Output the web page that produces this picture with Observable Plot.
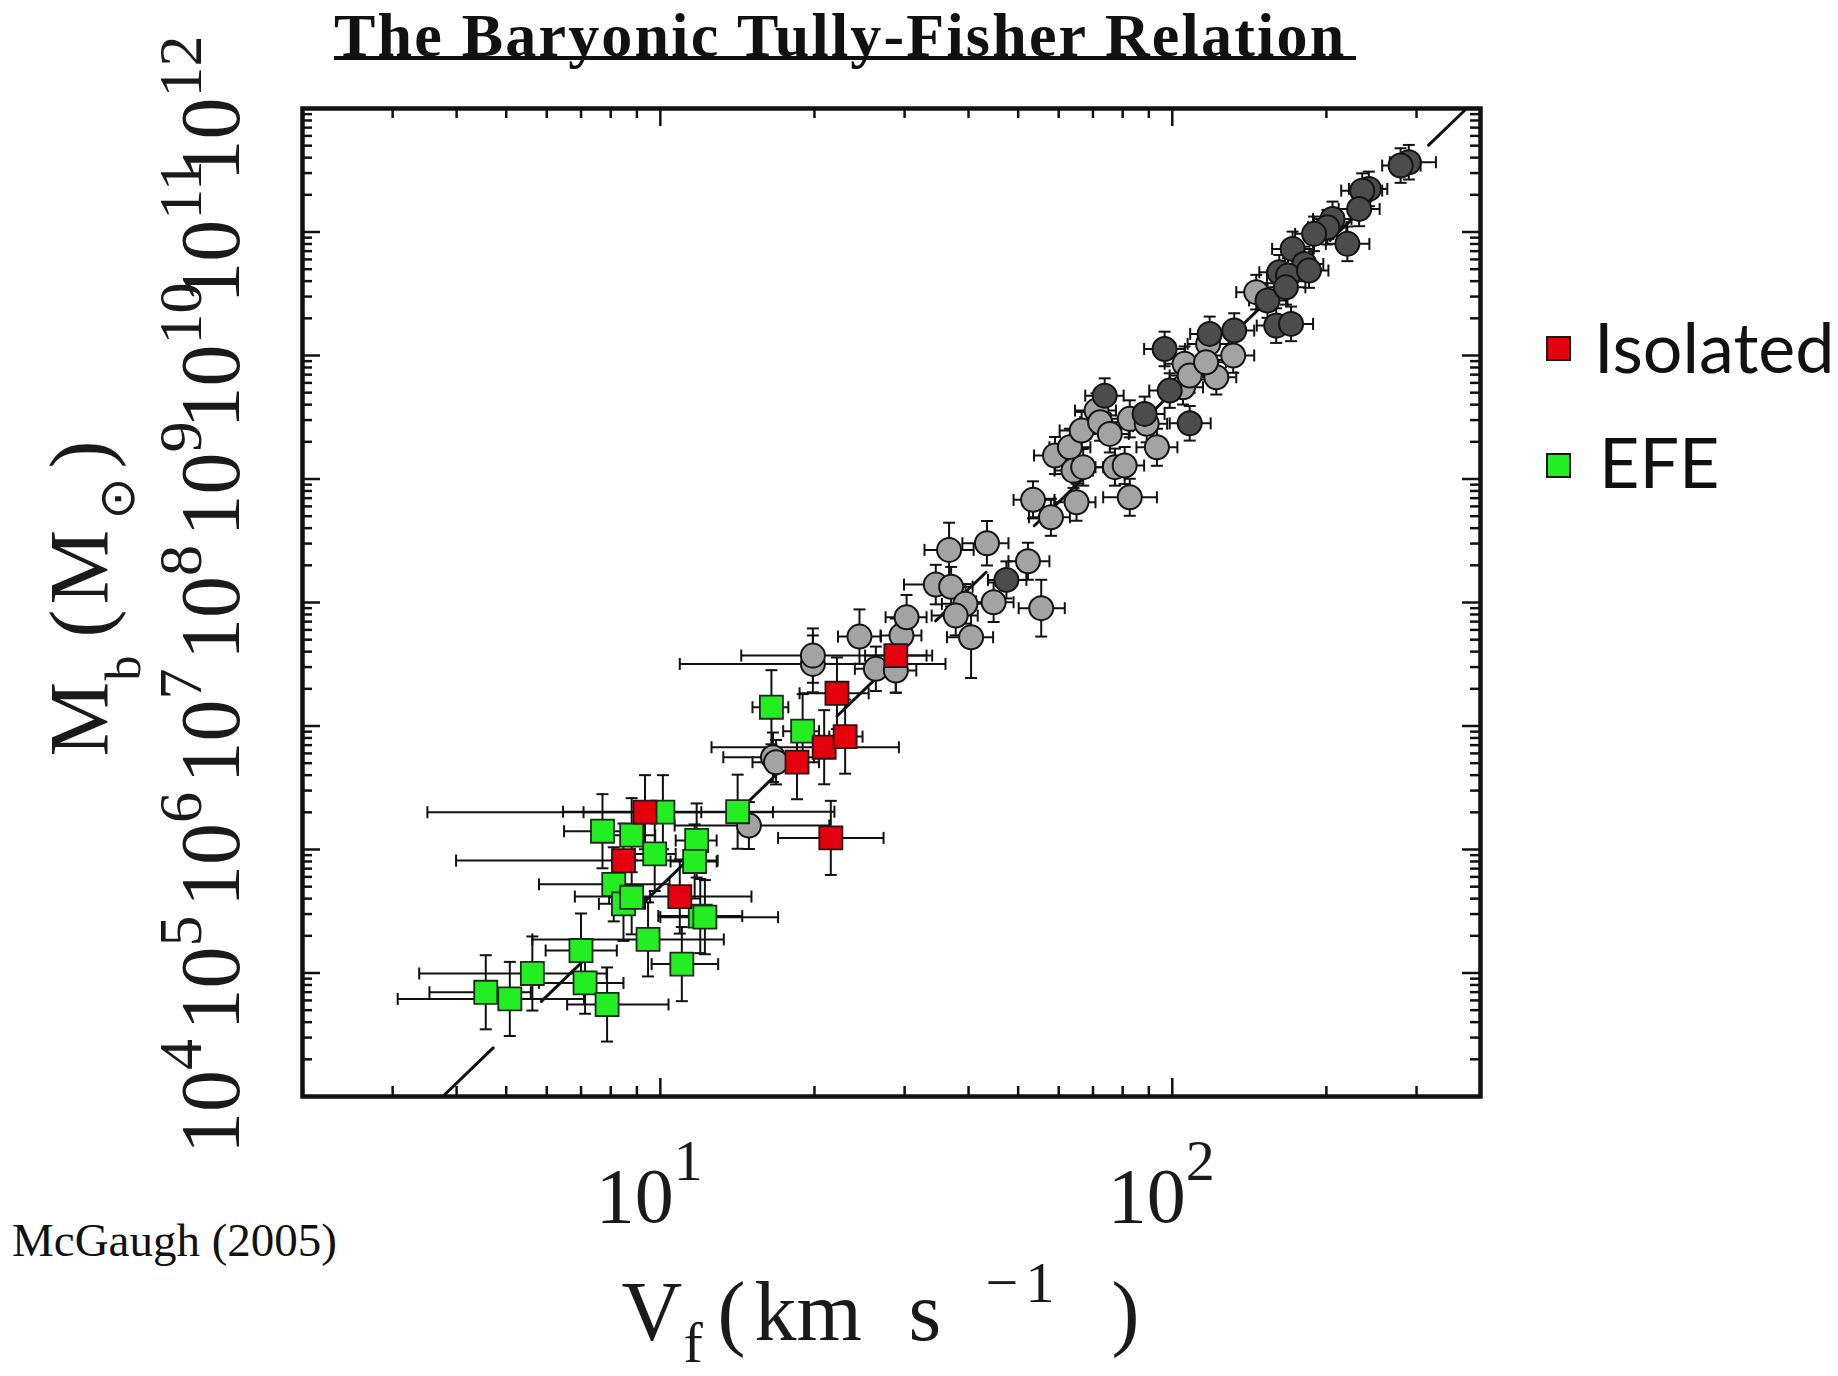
<!DOCTYPE html>
<html>
<head>
<meta charset="utf-8">
<script src="https://cdn.jsdelivr.net/npm/d3@7"></script>
<script src="https://cdn.jsdelivr.net/npm/@observablehq/plot@0.6"></script>
<style>
  body { margin: 0; background: #fff; }
  #wrap { position: relative; width: 1838px; height: 1376px; overflow: hidden; background: #fff; }
  #wrap svg { position: absolute; left: 0; top: 0; }
  .title { position: absolute; left: 334px; top: 0px; font: bold 62px "Liberation Serif", serif; letter-spacing: 2.2px; line-height: 70px; white-space: nowrap; color: #111; }
  .uline { position: absolute; left: 334px; top: 56px; width: 1022px; height: 4px; background: #111; }
  .caption { position: absolute; left: 12px; top: 1217px; font: 47px "Liberation Serif", serif; line-height: 47px; white-space: nowrap; color: #111; }
  .leg-sw { position: absolute; width: 25px; height: 25px; box-sizing: border-box; border: 2.5px solid #1a1a1a; }
  .leg-tx { position: absolute; font: 70px Lato, sans-serif; line-height: 70px; white-space: nowrap; color: #111; }
</style>
</head>
<body>
<div id="wrap"></div>
<script>
// ---------------- DATA ----------------
// each entry: [log10 Vf, log10 Mb, log10 Vf (bar low), log10 Vf (bar high), half-bar in dex of Mb]
const lightCircles = [
  [1.173, 6.194, 1.028, 1.330, 0.19],
  [1.220, 6.747, 1.123, 1.300, 0.20],
  [1.226, 6.707, 1.180, 1.270, 0.18],
  [1.298, 7.503, 1.038, 1.557, 0.23],
  [1.298, 7.570, 1.158, 1.531, 0.22],
  [1.389, 7.724, 1.347, 1.431, 0.22],
  [1.421, 7.463, 1.380, 1.460, 0.18],
  [1.460, 7.449, 1.420, 1.500, 0.18],
  [1.471, 7.733, 1.430, 1.510, 0.18],
  [1.481, 7.881, 1.440, 1.520, 0.18],
  [1.538, 8.145, 1.476, 1.580, 0.16],
  [1.568, 8.128, 1.520, 1.610, 0.16],
  [1.564, 8.426, 1.516, 1.612, 0.22],
  [1.596, 7.989, 1.550, 1.640, 0.16],
  [1.577, 7.894, 1.530, 1.620, 0.16],
  [1.607, 7.719, 1.560, 1.650, 0.33],
  [1.638, 8.480, 1.590, 1.680, 0.18],
  [1.651, 8.002, 1.610, 1.690, 0.16],
  [1.718, 8.334, 1.680, 1.760, 0.15],
  [1.744, 7.954, 1.700, 1.790, 0.23],
  [1.728, 8.831, 1.690, 1.770, 0.15],
  [1.763, 8.690, 1.720, 1.800, 0.15],
  [1.813, 8.812, 1.770, 1.850, 0.15],
  [1.771, 9.190, 1.730, 1.810, 0.15],
  [1.800, 9.257, 1.760, 1.840, 0.15],
  [1.807, 9.068, 1.770, 1.845, 0.14],
  [1.826, 9.096, 1.785, 1.865, 0.15],
  [1.823, 9.393, 1.780, 1.860, 0.15],
  [1.852, 9.554, 1.810, 1.890, 0.14],
  [1.859, 9.460, 1.820, 1.900, 0.15],
  [1.878, 9.365, 1.840, 1.915, 0.15],
  [1.888, 9.096, 1.850, 1.925, 0.15],
  [1.907, 9.109, 1.870, 1.945, 0.15],
  [1.917, 9.487, 1.880, 1.955, 0.15],
  [1.950, 9.447, 1.910, 1.990, 0.15],
  [1.970, 9.257, 1.930, 2.010, 0.15],
  [1.917, 8.852, 1.865, 1.970, 0.15],
  [2.024, 9.933, 1.985, 2.065, 0.14],
  [2.021, 9.743, 1.980, 2.060, 0.14],
  [2.034, 9.838, 1.995, 2.075, 0.14],
  [2.070, 10.094, 2.030, 2.110, 0.14],
  [2.086, 9.824, 2.045, 2.125, 0.14],
  [2.066, 9.945, 2.025, 2.105, 0.14],
  [2.119, 10.000, 2.080, 2.160, 0.14],
  [2.164, 10.513, 2.125, 2.205, 0.14]
];
const darkCircles = [
  [1.676, 8.183, 1.640, 1.715, 0.15],
  [1.868, 9.675, 1.830, 1.905, 0.14],
  [1.946, 9.527, 1.905, 1.985, 0.14],
  [2.034, 9.451, 1.995, 2.075, 0.14],
  [1.985, 10.053, 1.945, 2.025, 0.14],
  [1.995, 9.716, 1.955, 2.035, 0.14],
  [2.121, 10.202, 2.080, 2.160, 0.14],
  [2.073, 10.175, 2.035, 2.110, 0.14],
  [2.203, 10.242, 2.165, 2.245, 0.14],
  [2.232, 10.256, 2.195, 2.275, 0.14],
  [2.462, 11.565, 2.425, 2.515, 0.14],
  [2.446, 11.538, 2.410, 2.485, 0.14],
  [2.384, 11.349, 2.345, 2.420, 0.14],
  [2.371, 11.335, 2.330, 2.410, 0.14],
  [2.365, 11.187, 2.325, 2.405, 0.14],
  [2.313, 11.106, 2.275, 2.350, 0.14],
  [2.303, 11.039, 2.265, 2.340, 0.14],
  [2.277, 10.985, 2.240, 2.315, 0.14],
  [2.342, 10.904, 2.300, 2.385, 0.14],
  [2.235, 10.863, 2.195, 2.275, 0.14],
  [2.258, 10.741, 2.220, 2.295, 0.14],
  [2.209, 10.674, 2.170, 2.245, 0.14],
  [2.226, 10.647, 2.185, 2.265, 0.14],
  [2.267, 10.688, 2.230, 2.305, 0.14],
  [2.186, 10.445, 2.150, 2.225, 0.14],
  [2.222, 10.552, 2.185, 2.260, 0.14]
];
const efePoints = [
  [0.659, 4.844, 0.549, 0.747, 0.30],
  [0.706, 4.790, 0.487, 0.851, 0.30],
  [0.750, 4.996, 0.529, 0.895, 0.30],
  [0.845, 5.182, 0.776, 0.915, 0.30],
  [0.853, 4.920, 0.763, 0.928, 0.25],
  [0.896, 4.745, 0.818, 1.016, 0.30],
  [0.909, 5.718, 0.763, 1.018, 0.30],
  [0.928, 5.560, 0.880, 0.970, 0.30],
  [0.944, 5.613, 0.900, 0.980, 0.30],
  [0.887, 6.148, 0.812, 0.951, 0.30],
  [0.944, 6.116, 0.900, 0.990, 0.30],
  [0.989, 5.964, 0.950, 1.030, 0.30],
  [1.005, 6.302, 0.545, 1.220, 0.30],
  [0.976, 5.272, 0.750, 1.124, 0.30],
  [1.042, 5.072, 0.983, 1.113, 0.30],
  [1.071, 6.073, 1.030, 1.110, 0.30],
  [1.067, 5.903, 1.020, 1.110, 0.30],
  [1.078, 5.461, 0.996, 1.160, 0.30],
  [1.087, 5.452, 1.000, 1.230, 0.30],
  [1.151, 6.306, 0.810, 1.340, 0.30],
  [1.217, 7.152, 1.180, 1.250, 0.30],
  [1.278, 6.958, 1.240, 1.310, 0.30]
];
const isolatedPoints = [
  [0.970, 6.302, 0.850, 1.080, 0.30],
  [0.928, 5.910, 0.601, 1.112, 0.30],
  [1.038, 5.619, 0.833, 1.178, 0.30],
  [1.333, 6.094, 1.230, 1.436, 0.30],
  [1.267, 6.707, 1.220, 1.310, 0.30],
  [1.320, 6.828, 1.100, 1.466, 0.30],
  [1.361, 6.914, 1.330, 1.395, 0.30],
  [1.345, 7.265, 1.272, 1.407, 0.29],
  [1.460, 7.570, 1.400, 1.520, 0.30]
];
// fitted relation (end points: log10 Vf, log10 Mb)
const fitLine = [[0.575, 4], [2.575, 12]];

// axes
const xMinorTicks = [2, 3, 4, 5, 6, 7, 8, 9, 20, 30, 40, 50, 60, 70, 80, 90, 200, 300, 400];
const xMajorTicks = [10, 100];
const xLabelExps = [1, 2];
const yLabelExps = [4, 5, 6, 7, 8, 9, 10, 11, 12];
const yMinorMult = [2, 3, 4, 5, 6, 7, 8, 9];
const legendLabels = ["Isolated", "EFE"];
const legendColors = ["#e4000c", "#22ee22"];

// ---------------- BUILD ----------------
const toRows = (arr, kind) => arr.map(([lv, lm, llo, lhi, dm]) => ({
  kind, v: 10 ** lv, m: 10 ** lm, vlo: 10 ** llo, vhi: 10 ** lhi,
  mlo: 10 ** (lm - dm), mhi: 10 ** (lm + dm)
}));
const light = toRows(lightCircles, "light");
const dark = toRows(darkCircles, "dark");
const efe = toRows(efePoints, "EFE");
const iso = toRows(isolatedPoints, "Isolated");
const all = [...light, ...dark, ...efe, ...iso];

const yMajorTicks = yLabelExps.slice(1, -1).map(e => 10 ** e);
const yMinorTicks = yLabelExps.slice(0, -1).flatMap(e => yMinorMult.map(k => k * 10 ** e));

const W = 1838, H = 1376, ML = 302, MR = 358, MT = 108, MB = 280;
const FW = W - ML - MR, FH = H - MT - MB;
const majorLen = 18, minorLen = 10;
const ink = "#111";
const serif = "Liberation Serif";

const capH = {draw(ctx) { ctx.moveTo(-6, 0); ctx.lineTo(6, 0); }};
const capV = {draw(ctx) { ctx.moveTo(0, -6); ctx.lineTo(0, 6); }};

const tickStyle = {stroke: ink, strokeWidth: 2.5};
const barStyle = {stroke: ink, strokeWidth: 2};
const capStyle = {r: 3, fill: "none", stroke: ink, strokeWidth: 2};

const plot = Plot.plot({
  width: W, height: H,
  marginLeft: ML, marginRight: MR, marginTop: MT, marginBottom: MB,
  x: {type: "log", domain: [2, 400], axis: null},
  y: {type: "log", domain: [1e4, 1e12], axis: null},
  style: {background: "white", overflow: "visible"},
  marks: [
    // ticks on all four sides, pointing inward
    Plot.tickX(xMinorTicks, {x: d => d, insetTop: FH - minorLen, ...tickStyle}),
    Plot.tickX(xMajorTicks, {x: d => d, insetTop: FH - majorLen, ...tickStyle}),
    Plot.tickX(xMinorTicks, {x: d => d, insetBottom: FH - minorLen, ...tickStyle}),
    Plot.tickX(xMajorTicks, {x: d => d, insetBottom: FH - majorLen, ...tickStyle}),
    Plot.tickY(yMinorTicks, {y: d => d, insetRight: FW - minorLen, ...tickStyle}),
    Plot.tickY(yMajorTicks, {y: d => d, insetRight: FW - majorLen, ...tickStyle}),
    Plot.tickY(yMinorTicks, {y: d => d, insetLeft: FW - minorLen, ...tickStyle}),
    Plot.tickY(yMajorTicks, {y: d => d, insetLeft: FW - majorLen, ...tickStyle}),

    // fit line
    Plot.line(fitLine, {x: d => 10 ** d[0], y: d => 10 ** d[1], stroke: ink, strokeWidth: 3, strokeDasharray: "70,67"}),

    // error bars
    Plot.ruleY(all, {y: "m", x1: "vlo", x2: "vhi", ...barStyle}),
    Plot.ruleX(all, {x: "v", y1: "mlo", y2: "mhi", ...barStyle}),
    Plot.dot(all, {x: "vlo", y: "m", symbol: capV, ...capStyle}),
    Plot.dot(all, {x: "vhi", y: "m", symbol: capV, ...capStyle}),
    Plot.dot(all, {x: "v", y: "mlo", symbol: capH, ...capStyle}),
    Plot.dot(all, {x: "v", y: "mhi", symbol: capH, ...capStyle}),

    // markers
    Plot.dot(light, {x: "v", y: "m", r: 12, fill: "#a3a3a3", stroke: "#141414", strokeWidth: 2}),
    Plot.dot(dark, {x: "v", y: "m", r: 12, fill: "#4c4c4c", stroke: "#141414", strokeWidth: 2}),
    Plot.dot(efe, {x: "v", y: "m", symbol: "square", r: 13, fill: legendColors[1], stroke: "#1c2a1c", strokeWidth: 1.8}),
    Plot.dot(iso, {x: "v", y: "m", symbol: "square", r: 13, fill: legendColors[0], stroke: "#2a1414", strokeWidth: 1.8}),

    // frame
    Plot.frame({stroke: ink, strokeWidth: 4.5}),

    // tick labels
    Plot.text(xLabelExps, {x: e => 10 ** e, text: () => "10", frameAnchor: "bottom", dx: -11, dy: 125,
      fontSize: 78, fontFamily: serif, lineAnchor: "bottom", textAnchor: "middle", fill: "#1a1a1a", ariaDescription: "xtick-label"}),
    Plot.text(yLabelExps, {y: e => 10 ** e, text: () => "10", frameAnchor: "left", rotate: -90, dx: -64, dy: 0,
      fontSize: 84, fontFamily: serif, lineAnchor: "bottom", textAnchor: "middle", fill: "#1a1a1a", ariaDescription: "ytick-label"}),

    // axis titles
    Plot.text(["x"], {text: () => "V", frameAnchor: "bottom-left", dx: 319, dy: 243, fontSize: 84, fontFamily: serif,
      lineAnchor: "bottom", textAnchor: "start", fill: "#1a1a1a", ariaDescription: "x-title"}),
    Plot.text(["y"], {text: () => "M", frameAnchor: "left", rotate: -90, dx: -195, dy: 154, fontSize: 84, fontFamily: serif,
      lineAnchor: "bottom", textAnchor: "start", fill: "#1a1a1a", ariaDescription: "y-title"})
  ]
});

// ---- rich text (superscripts / subscripts) ----
const NS = "http://www.w3.org/2000/svg";
function rich(el, parts) {
  const bx = parseFloat(el.getAttribute("x")) || 0;
  el.textContent = "";
  let cur = 0;
  for (const p of parts) {
    const t = document.createElementNS(NS, "tspan");
    if (p.x != null) t.setAttribute("x", bx + p.x);
    const sh = p.shift || 0;
    t.setAttribute("dy", sh - cur);
    cur = sh;
    if (p.size) t.setAttribute("font-size", p.size);
    if (p.family) t.setAttribute("font-family", p.family);
    t.textContent = p.t;
    el.appendChild(t);
  }
}
const textsOf = (desc) => plot.querySelectorAll(`g[aria-description="${desc}"] text`);
textsOf("xtick-label").forEach((el, i) => {
  rich(el, [{t: "10"}, {t: String(xLabelExps[i]), size: 58, shift: -42}]);
});
textsOf("ytick-label").forEach((el, i) => {
  rich(el, [{t: "10"}, {t: String(yLabelExps[i]), size: 62, shift: -38}]);
});
const xt = textsOf("x-title")[0];
if (xt) rich(xt, [
  {t: "V", x: 0},
  {t: "f", x: 62, size: 58, shift: 22},
  {t: "(", x: 96},
  {t: "km", x: 133},
  {t: "s", x: 287},
  {t: "\u2212", x: 364, size: 58, shift: -38},
  {t: "1", x: 404, size: 58, shift: -38},
  {t: ")", x: 490}
]);
const yt = textsOf("y-title")[0];
if (yt) rich(yt, [
  {t: "M", x: 0},
  {t: "b", x: 76, size: 50, shift: 32},
  {t: "(", x: 119},
  {t: "M", x: 152},
  {t: "\u2299", x: 237, size: 50, shift: 26, family: "DejaVu Sans"},
  {t: ")", x: 288}
]);

// ---- assemble ----
const wrap = document.getElementById("wrap");
wrap.appendChild(plot);

const title = document.createElement("div");
title.className = "title";
title.textContent = "The Baryonic Tully-Fisher Relation";
wrap.appendChild(title);
const ul = document.createElement("div");
ul.className = "uline";
wrap.appendChild(ul);

const cap = document.createElement("div");
cap.className = "caption";
cap.textContent = "McGaugh (2005)";
wrap.appendChild(cap);

const legTops = [336, 453];
const legTextTops = [311, 426];
const legTextLeft = [1594, 1599];
legendLabels.forEach((lab, i) => {
  const sw = document.createElement("div");
  sw.className = "leg-sw";
  sw.style.left = "1546px";
  sw.style.top = legTops[i] + "px";
  sw.style.background = legendColors[i];
  wrap.appendChild(sw);
  const tx = document.createElement("div");
  tx.className = "leg-tx";
  tx.style.left = legTextLeft[i] + "px";
  tx.style.top = legTextTops[i] + "px";
  tx.textContent = lab;
  wrap.appendChild(tx);
});
</script>
</body>
</html>
